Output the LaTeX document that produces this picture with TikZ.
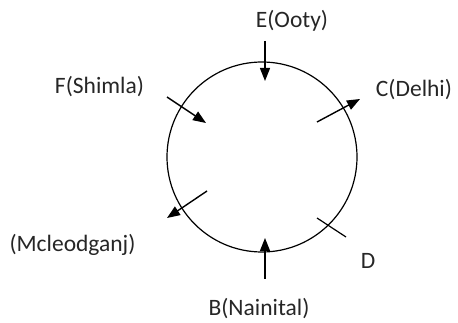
\documentclass[tikz,border=0pt]{standalone}
\usepackage{fontspec}
\setmainfont{Carlito}
\usetikzlibrary{arrows.meta}
\begin{document}
\begin{tikzpicture}[x=1pt,y=-1pt, every node/.style={ text=black!85, inner sep=0pt, anchor=base, font=\fontsize{23.5}{28}\selectfont }, dir/.style={ line width=1.4pt, -{Triangle[length=13pt,width=10pt]} } ]
			\useasboundingbox (0,0) rectangle (458,323);
			\coordinate (o) at (262,157);
			\draw[line width=1.2pt] (o) circle (95);

			\node (E) at (292,28) {E(Ooty)};
			\node (F) at (99.5,94) {F(Shimla)};
			\node (C) at (414,97) {C(Delhi)};
			\node (M) at (72.5,252) {(Mcleodganj)};
			\node (D) at (368,269) {D};
			\node (B) at (259,315) {B(Nainital)};% labels sit on their baseline%

			\coordinate (e1) at (265,41);  \coordinate (e2) at (265,81);
			\coordinate (b1) at (265,279); \coordinate (b2) at (265,238);
			\coordinate (f1) at (167,97);  \coordinate (f2) at (206,123);
			\coordinate (m1) at (207,191); \coordinate (m2) at (167,218);
			\coordinate (c1) at (317,122); \coordinate (c2) at (360,99);
			\coordinate (d1) at (317,218); \coordinate (d2) at (346,237);

			\draw[dir] (e1) -- (e2);
			\draw[dir] (b1) -- (b2);
			\draw[dir] (f1) -- (f2);
			\draw[dir] (m1) -- (m2);
			\draw[dir] (c1) -- (c2);
			\draw[line width=1.2pt] (d1) -- (d2);
		\end{tikzpicture}
\end{document}
